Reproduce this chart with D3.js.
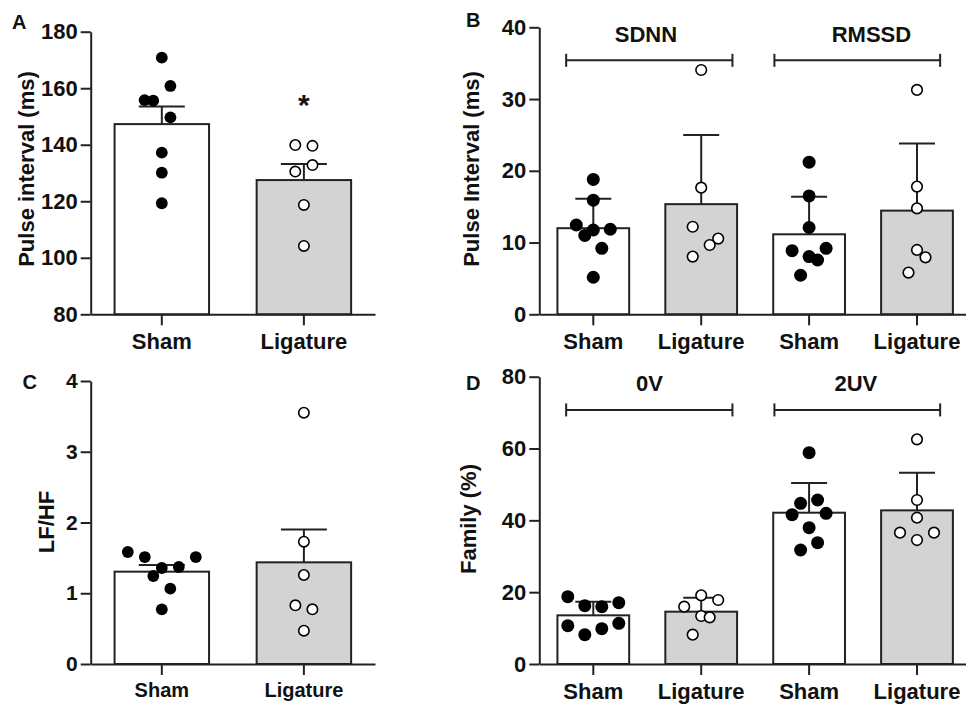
<!DOCTYPE html>
<html><head><meta charset="utf-8">
<script src="https://cdn.jsdelivr.net/npm/d3@7"></script>
<style>
body{margin:0;background:#fff}
text{font-family:"Liberation Sans",Arial,sans-serif;font-weight:bold;fill:#111}
</style>
</head><body><svg id="c" width="966" height="704"></svg>
<script>
// ---------- data ----------
const groupsAC = ["Sham", "Ligature"];
const groupsBD = ["Sham", "Ligature", "Sham", "Ligature"];

// A: pulse interval (ms)
const aTicks = [80, 100, 120, 140, 160, 180];
const aMeans = [147.3, 127.5];
const aSem = [6.2, 5.7];
const aSham = [170.8, 160.8, 155.8, 155.6, 149.7, 137.2, 130.1, 119.3];
const aLig = [139.9, 139.6, 130.5, 132.8, 118.7, 104.2];
const aShamJit = [0, 1, -2, -1, 1, 0, 0, 0];
const aLigJit = [-1, 1, -1, 1, 0, 0];
const aStar = {group: 1, value: 150.5, text: "*"};

// B: SDNN / RMSSD
const bTicks = [0, 10, 20, 30, 40];
const bMeans = [12.0, 15.35, 11.15, 14.45];
const bSem = [4.1, 9.65, 5.25, 9.35];
const bSham1 = [18.8, 15.9, 12.45, 11.75, 11.0, 11.85, 9.2, 5.16];
const bLig1 = [34.05, 17.65, 12.2, 10.55, 9.66, 8.04];
const bSham2 = [21.2, 16.5, 12.1, 8.87, 9.2, 8.04, 7.57, 5.44];
const bLig2 = [31.27, 17.8, 14.77, 8.97, 7.94, 5.81];
const bShamJit1 = [0, 0, -2, 0, -1, 2, 1, 0];
const bLigJit1 = [0, 0, -1, 2, 1, -1];
const bShamJit2 = [0, 0, 0, -2, 2, 0, 1, -1];
const bLigJit2 = [0, 0, 0, 0, 1, -1];
const bBrackets = ["SDNN", "RMSSD"];
const bBracketValue = 35.4;
// bracket extents and label centres, in group-step units from the first bar's left edge
const bBracketSpans = [[0.081, 1.622], [2.011, 3.547]];
const bLabelAt = [0.82, 2.91];

// C: LF/HF
const cTicks = [0, 1, 2, 3, 4];
const cMeans = [1.305, 1.437];
const cSem = [0.095, 0.463];
const cSham = [1.583, 1.512, 1.512, 1.357, 1.371, 1.244, 1.065, 0.773];
const cLig = [3.552, 1.729, 1.258, 0.829, 0.773, 0.471];
const cShamJit = [-4, -2, 4, 0, 2, -1, 1, 0];
const cLigJit = [0, 0, 0, -1, 1, 0];

// D: Family (%)
const dTicks = [0, 20, 40, 60, 80];
const dMeans = [13.55, 14.57, 42.13, 42.78];
const dSem = [3.8, 3.9, 8.27, 10.49];
const dSham1 = [18.75, 16.24, 15.96, 17.08, 10.67, 8.17, 9.84, 11.32];
const dLig1 = [19.12, 17.82, 15.96, 13.36, 12.99, 8.17];
const dSham2 = [58.84, 44.73, 45.66, 41.58, 41.95, 37.96, 33.78, 31.74];
const dLig2 = [62.55, 45.66, 40.74, 36.57, 36.57, 34.52];
const dShamJit1 = [-3, -1, 1, 3, -3, -1, 1, 3];
const dLigJit1 = [0, 2, -2, 0, 1, -1];
const dShamJit2 = [0, -1, 1, -2, 2, 0, 1, -1];
const dLigJit2 = [0, 0, 0, -2, 2, 0];
const dBrackets = ["0V", "2UV"];
const dBracketValue = 70.75;
const dBracketSpans = [[0.081, 1.622], [2.011, 3.547]];
const dLabelAt = [0.854, 2.766];

// ---------- drawing ----------
const svg = d3.select("#c");
const INK = "#222";

function panel(o) {
  const g = svg.append("g");
  const x = d3.scaleBand().domain(d3.range(o.cats.length)).range(o.xr)
    .paddingInner(0.335).paddingOuter(0.168);
  const y = d3.scaleLinear().domain(o.yd).range(o.yr);
  const bw = x.bandwidth();
  const cx = i => x(i) + bw / 2;

  // bars
  g.selectAll("rect.bar").data(o.means).join("rect")
    .attr("x", (d, i) => x(i)).attr("y", d => y(d))
    .attr("width", bw).attr("height", d => y(o.yd[0]) - y(d))
    .attr("fill", (d, i) => i % 2 ? "#d3d3d3" : "#fff")
    .attr("stroke", INK).attr("stroke-width", 2);

  // error bars (upper only)
  const eb = g.selectAll("g.err").data(o.means).join("g");
  eb.append("line").attr("x1", (d, i) => cx(i)).attr("x2", (d, i) => cx(i))
    .attr("y1", d => y(d)).attr("y2", (d, i) => y(d + o.sem[i]))
    .attr("stroke", INK).attr("stroke-width", 2);
  eb.append("line").attr("x1", (d, i) => cx(i) - o.cap).attr("x2", (d, i) => cx(i) + o.cap)
    .attr("y1", (d, i) => y(d + o.sem[i])).attr("y2", (d, i) => y(d + o.sem[i]))
    .attr("stroke", INK).attr("stroke-width", 2);

  // dots
  o.points.forEach((pts, i) => {
    const open = i % 2 === 1;
    g.append("g").selectAll("circle").data(pts).join("circle")
      .attr("cx", (d, j) => cx(i) + o.jit[i][j] * o.unit)
      .attr("cy", d => y(d))
      .attr("r", open ? o.ro : o.rf)
      .attr("fill", open ? "#fff" : "#000")
      .attr("stroke", "#000").attr("stroke-width", open ? 1.6 : 0);
  });

  // brackets
  if (o.brackets) {
    const px = p => x(0) + p * x.step();
    o.brackets.forEach((lab, i) => {
      const [s, e] = o.spans[i];
      const x1 = px(s), x2 = px(e), yy = y(o.bval);
      g.append("line").attr("x1", x1).attr("x2", x2).attr("y1", yy).attr("y2", yy)
        .attr("stroke", INK).attr("stroke-width", 2);
      [x1, x2].forEach(xx => g.append("line").attr("x1", xx).attr("x2", xx)
        .attr("y1", yy - 6.5).attr("y2", yy + 6.5).attr("stroke", INK).attr("stroke-width", 2));
      g.append("text").attr("x", px(o.labelAt[i])).attr("y", o.blabelY)
        .attr("text-anchor", "middle").attr("font-size", o.bfs).text(lab);
    });
  }

  // axes
  const ya = d3.axisLeft(y).tickValues(o.ticks).tickFormat(d3.format("d"))
    .tickSize(10).tickPadding(3).tickSizeOuter(0);
  const yg = g.append("g").attr("transform", `translate(${o.xr[0]},0)`).call(ya)
    .attr("font-family", null).attr("font-size", null);
  const xa = d3.axisBottom(x).tickSize(11).tickPadding(8).tickSizeOuter(0).tickFormat(i => o.cats[i]);
  const xg = g.append("g").attr("transform", `translate(0,${o.yr[0]})`).call(xa)
    .attr("font-family", null).attr("font-size", null);
  [yg, xg].forEach(a => {
    a.selectAll("path.domain").attr("stroke", INK).attr("stroke-width", 2);
    a.selectAll(".tick line").attr("stroke", INK).attr("stroke-width", 2);
  });
  yg.selectAll(".tick text").attr("font-size", o.tfs).attr("fill", "#111");
  xg.selectAll(".tick text").attr("font-size", o.xfs).attr("fill", "#111");

  // title
  g.append("text").attr("transform", `translate(${o.titleX},${o.titleY}) rotate(-90)`)
    .attr("text-anchor", "middle").attr("font-size", o.titleFs).text(o.title);
  // panel letter
  g.append("text").attr("x", o.letterX).attr("y", o.letterY).attr("font-size", 20).text(o.letter);

  if (o.star) {
    g.append("text").attr("x", cx(o.star.group)).attr("y", y(o.star.value))
      .attr("text-anchor", "middle").attr("font-size", 30).text(o.star.text);
  }
}

panel({
  cats: groupsAC, xr: [90.7, 375], yr: [314.3, 31.7], yd: [80, 180], ticks: aTicks,
  means: aMeans, sem: aSem, points: [aSham, aLig], jit: [aShamJit, aLigJit],
  unit: 8.6, rf: 5.9, ro: 5.2, cap: 23, tfs: 22, xfs: 22,
  title: "Pulse interval (ms)", titleX: 34, titleY: 169, titleFs: 22,
  letter: "A", letterX: 12, letterY: 28.5, star: aStar
});
panel({
  cats: groupsBD, xr: [539.3, 971], yr: [314.3, 27.3], yd: [0, 40], ticks: bTicks,
  means: bMeans, sem: bSem, points: [bSham1, bLig1, bSham2, bLig2],
  jit: [bShamJit1, bLigJit1, bShamJit2, bLigJit2],
  unit: 8.5, rf: 6.5, ro: 5.3, cap: 18, tfs: 22, xfs: 22,
  brackets: bBrackets, spans: bBracketSpans, labelAt: bLabelAt, bval: bBracketValue, blabelY: 42.3, bfs: 22,
  title: "Pulse Interval (ms)", titleX: 479, titleY: 169, titleFs: 22,
  letter: "B", letterX: 466, letterY: 27
});
panel({
  cats: groupsAC, xr: [90.7, 375], yr: [664, 381], yd: [0, 4], ticks: cTicks,
  means: cMeans, sem: cSem, points: [cSham, cLig], jit: [cShamJit, cLigJit],
  unit: 8.5, rf: 5.9, ro: 5.2, cap: 23, tfs: 21, xfs: 20,
  title: "LF/HF", titleX: 54, titleY: 522, titleFs: 22,
  letter: "C", letterX: 22.5, letterY: 388.5
});
panel({
  cats: groupsBD, xr: [539.3, 971], yr: [664, 376.7], yd: [0, 80], ticks: dTicks,
  means: dMeans, sem: dSem, points: [dSham1, dLig1, dSham2, dLig2],
  jit: [dShamJit1, dLigJit1, dShamJit2, dLigJit2],
  unit: 8.5, rf: 6.5, ro: 5.3, cap: 18, tfs: 22, xfs: 22,
  brackets: dBrackets, spans: dBracketSpans, labelAt: dLabelAt, bval: dBracketValue, blabelY: 391, bfs: 22,
  title: "Family (%)", titleX: 476, titleY: 519, titleFs: 22,
  letter: "D", letterX: 466, letterY: 389.5
});
</script>
</body></html>
